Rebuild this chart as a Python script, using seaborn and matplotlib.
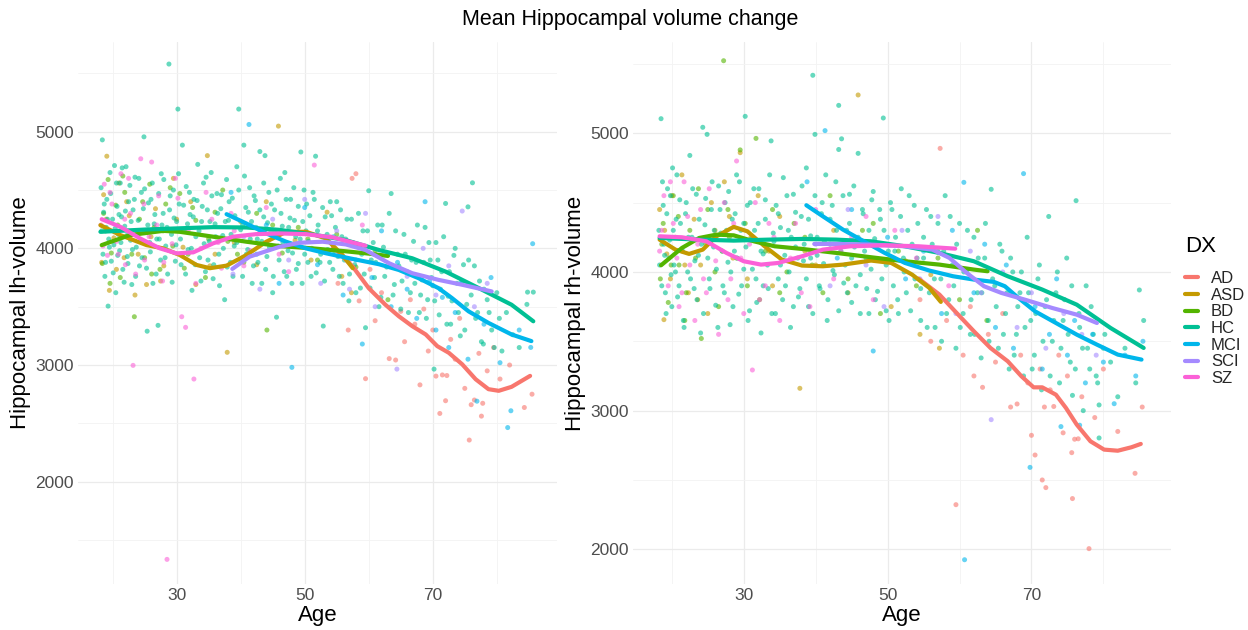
import matplotlib
matplotlib.use("Agg")
import matplotlib.pyplot as plt
from matplotlib.lines import Line2D
import seaborn as sns
import pandas as pd

# ---------------- data ----------------
GROUPS = ["AD", "ASD", "BD", "HC", "MCI", "SCI", "SZ"]
COLORS = ["#F8766D", "#C49A00", "#53B400", "#00C094", "#00B6EB", "#A58AFF", "#FB61D7"]
X_TICKS = [30, 50, 70]
LH_Y_TICKS = [2000, 3000, 4000, 5000]
RH_Y_TICKS = [2000, 3000, 4000, 5000]

# --- left hemisphere scatter (Age, volume) ---
LH_HC = [(18.2,4520),(18.4,4930),(18.5,3950),(18.6,4310),(18.8,3760),(19.0,4180),(19.1,4420),(19.3,3505),(19.4,4080),(19.6,4650),(19.8,3890),(20.0,4250),(20.2,4030),(20.3,4710),(20.5,3620),(20.7,4360),(20.9,4120),(21.1,3980),(21.2,4560),(21.4,4270),(21.6,3820),(21.9,4190),(22.1,4700),(22.3,3930),(22.5,4400),(22.8,4070),(23.0,3690),(23.2,4330),(23.5,4610),(23.7,4010),(24.0,4240),(24.2,3850),(24.5,4480),(24.9,4956),(25.1,4150),(25.4,3290),(25.6,4390),(25.9,3970),(26.2,4560),(26.5,4210),(26.8,3780),(27.1,3340),(27.3,4080),(27.6,4640),(27.9,4300),(28.2,3920),(28.5,4180),(28.8,5580),(29.0,4450),(29.3,3710),(29.6,4260),(29.9,4030),(30.2,5194),(30.4,4380),(30.7,3860),(30.9,4885),(31.2,4150),(31.5,4530),(31.8,3990),(32.1,4290),(32.4,3640),(32.7,4420),(33.0,4100),(33.3,4720),(33.6,3920),(33.9,4230),(34.2,4560),(34.5,3800),(34.8,4330),(35.1,4060),(35.4,4650),(35.7,3740),(36.0,4210),(36.3,4470),(36.6,3950),(36.9,4340),(37.2,4110),(37.5,3560),(37.8,4590),(38.1,4240),(38.4,3880),(38.7,4430),(39.0,4020),(39.4,4700),(39.7,5194),(40.0,4160),(40.3,3760),(40.5,4885),(40.8,4350),(41.1,3990),(41.4,4520),(41.7,4230),(42.0,3850),(42.3,4410),(42.6,4080),(43.0,4830),(43.3,3700),(43.6,4270),(43.8,4795),(44.1,3930),(44.4,4480),(44.7,4140),(45.0,3620),(45.3,4330),(45.6,3410),(45.9,4020),(46.2,4600),(46.5,4190),(46.8,3800),(47.1,4420),(47.4,3980),(47.7,4260),(48.0,3700),(48.3,4520),(48.6,4100),(49.0,3870),(49.4,4826),(49.7,4230),(50.0,3950),(50.3,4380),(50.6,4060),(51.0,3760),(51.3,4480),(51.7,4790),(52.0,4150),(52.4,3880),(52.9,3334),(53.2,4270),(53.6,3990),(54.0,4400),(54.4,3820),(54.8,4180),(55.2,3930),(55.6,4330),(56.0,3700),(56.4,4080),(56.9,3550),(57.3,4250),(57.8,3860),(58.2,4020),(58.7,3660),(59.1,4150),(59.5,3320),(60.0,4494),(60.4,3900),(60.9,3750),(61.4,4200),(61.9,3580),(62.3,4010),(62.8,3840),(63.2,4300),(63.5,4470),(64.0,3690),(64.5,3950),(65.0,3480),(65.5,4120),(66.0,3800),(66.5,3620),(67.0,4060),(67.4,3880),(67.9,3450),(68.3,3730),(68.8,4180),(69.2,3560),(69.6,3900),(70.0,3680),(70.2,2965),(70.5,4050),(71.0,3430),(71.4,3800),(72.0,4385),(72.4,3590),(72.8,3350),(73.3,3940),(73.8,3700),(74.3,3250),(74.8,3860),(75.3,3520),(75.5,4356),(76.2,4562),(76.7,3400),(77.3,3720),(77.9,3180),(78.5,3560),(79.2,3300),(80.0,3620),(80.8,3120),(81.5,3450),(82.5,3260),(83.5,3150),(84.7,3520),(84.8,3625),(85.7,3625),
         (18.3,4150),(18.7,4380),(18.9,3880),(19.2,4250),(19.5,4010),(19.7,4470),(20.1,3790),(20.4,4170),(20.6,4560),(20.8,3940),(21.0,4290),(21.3,4050),(21.5,4690),(21.8,3710),(22.0,4320),(22.2,4110),(22.4,3870),(22.7,4540),(22.9,4230),(23.1,3990),(23.4,4420),(23.6,3760),(23.8,4150),(24.1,4600),(24.3,4060),(24.6,3920),(24.8,4340),(25.0,4510),(25.3,3830),(25.5,4200),(25.8,4050),(26.0,4420),(26.3,3700),(26.6,4290),(26.9,4080),(27.2,4470),(27.5,3900),(27.7,4200),(28.0,4590),(28.3,4020),(28.6,3780),(28.9,4330),(29.2,4120),(29.5,4500),(29.8,3890),(30.0,4230),(30.3,4640),(30.6,4080),(30.9,3950),(31.1,4370),(31.4,3780),(31.7,4210),(32.0,4480),(32.3,4000),(32.6,4270),(32.9,3860),(33.2,4410),(33.5,4150),(33.8,3720),(34.0,4360),(34.3,4040),(34.6,4610),(34.9,3900),(35.2,4230),(35.5,4450),(35.8,3860),(36.1,4100),(36.4,4300),(36.7,3680),(37.0,4460),
         (37.3,4000),(37.6,4230),(37.9,3840),(38.2,4400),(38.5,4120),(38.8,3760),(39.1,4280),(39.4,4050),(39.7,4500),(40.0,3900),(40.3,4200),(40.6,4620),(40.9,3950),(41.2,4310),(41.5,4080),(41.8,3700),(42.1,4450),(42.4,4180),(42.7,3880),(43.0,4330),(43.3,4060),(43.6,4560),(43.9,3820),(44.2,4220),(44.5,4010),(44.8,4380),(45.1,3760),(45.4,4150),(45.7,4500),(46.0,3900),(46.3,4300),(46.6,4050),(46.9,4650),(47.2,3760),(47.5,4180),(47.8,4420),(48.1,3960),(48.4,4240),(48.7,3820),(49.0,4360),(49.3,4080),(49.6,3700),(49.9,4500),(50.2,4150),(50.5,3880),(50.8,4280),(51.1,4000),(51.5,4420),(51.8,3790),(52.1,4200),(52.5,3950),(52.8,4350),(53.1,3720),(53.5,4120),(53.9,3880),(54.2,4280),(54.6,3980),(55.0,4400),(55.4,3760),(55.8,4100),
         (56.2,3900),(56.6,4250),(57.0,3780),(57.5,4050),(58.0,3620),(58.4,4300),(58.9,3950),(59.3,3780),(59.8,4150),(60.2,3660),(60.7,4050),(61.1,3880),(61.6,3500),(62.1,4200),(62.5,3760),(63.0,3950),(63.8,3600),(64.2,4150),(64.7,3850),(65.2,3720),(65.7,3950),(66.2,3450),(66.7,3900),(67.2,3700),(67.6,4200),(68.1,3600),(68.6,3880),(69.0,3400),(69.4,4050),(69.8,3750),(70.3,3550),(70.8,3900),(71.2,3650),(71.7,4100),(72.2,3350),(72.6,3800),(73.0,3550),(73.5,4000),(74.0,3450),(74.5,3700),(75.0,3300),(75.6,3900),(76.0,3600),(76.5,3850),(77.0,3450),(77.6,3200),(78.0,3650),(78.8,3450),(79.6,3150),(80.4,3400)]
LH_ASD = [(18.3,3880),(18.6,4460),(19.1,4790),(19.5,3640),(20.2,4090),(21.0,4560),(21.8,3920),(22.6,4280),(23.5,3600),(24.4,4150),(25.3,3690),(26.7,4340),(28.0,3850),(29.5,4600),(31.0,4010),(33.0,3690),(34.8,4795),(36.0,3950),(37.9,3109),(40.0,4230),(42.5,3860),(44.0,4400),(45.9,5048),(48.5,4070),(51.0,3900),(53.5,4310),(55.8,3760),(57.3,3620),
          (19.0,4250),(20.6,3820),(22.2,4400),(24.0,3950),(26.0,4100),(27.5,3720),(30.0,4250),(32.2,4400),(35.2,3850),(39.0,4050)]
LH_BD = [(18.4,3870),(18.9,4150),(19.3,4590),(19.8,3960),(20.5,4370),(21.2,3750),(21.9,4480),(22.7,4100),(23.4,3414),(24.2,4250),(25.0,3920),(25.8,4550),(26.5,4180),(27.4,3820),(28.3,4380),(29.4,4020),(30.5,4470),(31.8,3950),(33.0,4240),(34.5,3750),(36.0,4310),(38.0,4060),(40.5,3880),(42.5,4300),(44.1,3300),(46.5,3960),(49.0,4180),(52.0,3900),(55.0,4120),(58.0,3840),(61.0,3980),(63.0,3560),
         (18.6,4300),(19.6,3700),(20.8,4200),(21.6,4620),(23.0,3950),(24.7,4400),(26.1,3780),(27.9,4150),(29.0,4520),(31.2,3830),(32.5,4350),(35.0,4080),(37.2,4500),(39.5,3950),(45.0,4200),(50.5,4080)]
LH_SZ = [(18.2,4200),(18.7,4550),(19.2,3940),(19.9,4380),(20.6,4060),(21.3,4640),(22.0,3860),(22.8,4300),(23.2,2997),(23.9,4120),(24.4,4768),(25.0,3900),(26.1,4740),(26.9,4200),(27.8,3720),(28.5,1334),(29.3,4040),(30.2,4430),(30.8,3414),(31.4,3323),(32.7,2880),(33.8,4000),(35.5,4250),(37.0,3830),(39.0,4150),(41.5,3980),(44.0,4350),(47.5,3800),(51.5,4714),(54.0,4100),(57.0,3900),(59.0,4200),
         (18.5,4020),(19.6,4480),(20.9,3950),(21.9,4250),(22.5,4600),(23.6,3780),(24.9,4380),(25.7,4100),(27.2,4450),(28.0,3880),(29.8,4600),(31.8,4150),(33.0,3700),(34.6,4480),(36.5,4050),(38.5,4300),(40.5,3850),(43.0,4150),(46.0,3950)]
LH_AD = [(55.2,3700),(56.8,3300),(57.4,4600),(58.0,4640),(58.5,3550),(59.5,2883),(60.2,3820),(61.0,3380),(62.0,3620),(63.2,3055),(64.2,3043),(65.0,3460),(65.6,3200),(66.5,3560),(67.2,3350),(68.0,2830),(68.6,3480),(69.3,3120),(70.0,3300),(70.5,2905),(71.1,2585),(71.5,2915),(72.0,2694),(72.2,2910),(72.8,3220),(73.5,3050),(74.2,3400),(75.0,2800),(75.7,2357),(76.0,2660),(76.5,2700),(77.2,3100),(77.6,2562),(77.8,2672),(78.5,2950),(79.5,3150),(80.5,2880),(82.0,3000),(84.3,2636),(85.5,2750)]
LH_MCI = [(38.5,4480),(41.3,5062),(42.5,3950),(44.0,4200),(46.0,3700),(48.0,2980),(50.0,4350),(52.0,3860),(54.5,4100),(56.0,3600),(58.0,3900),(59.0,3180),(60.5,3750),(62.0,4150),(63.5,3500),(64.5,3880),(66.0,3650),(67.5,3400),(68.8,4400),(69.5,3720),(70.5,3300),(71.5,3580),(72.5,3150),(73.5,3450),(74.5,3720),(75.5,3050),(76.9,2690),(78.0,3350),(79.1,3750),(80.5,3020),(81.7,2464),(82.2,2608),(83.5,3300),(85.3,3151),(85.6,4040)]
LH_SCI = [(38.8,3780),(40.5,4100),(43.0,3650),(45.0,4250),(47.5,3900),(50.0,4420),(52.5,3700),(55.0,4150),(57.0,3650),(59.5,4300),(61.0,3500),(63.0,3950),(64.4,2965),(66.0,3760),(68.5,4000),(70.5,3600),(72.5,3850),(74.6,4320),(76.5,3500),(78.5,3700)]

# --- right hemisphere scatter ---
RH_HC = [(18.2,4300),(18.5,5105),(18.6,3900),(18.8,4480),(19.0,4120),(19.2,3700),(19.4,4600),(19.7,4230),(19.9,3980),(20.1,4750),(20.3,4050),(20.6,4380),(20.8,3820),(21.1,4520),(21.3,4160),(21.6,3650),(21.9,4420),(22.2,4000),(22.5,4840),(22.8,4250),(23.1,3880),(23.4,4560),(23.7,4120),(24.0,3560),(24.3,5043),(24.6,4340),(24.9,4992),(25.2,3950),(25.5,4450),(25.8,4180),(26.1,3760),(26.5,4620),(26.8,4280),(27.1,3900),(27.4,4500),(27.8,4070),(28.1,3620),(28.4,4380),(28.7,4150),(29.0,4700),(29.3,3840),(29.6,4300),(30.0,4020),(30.2,5122),(30.5,4480),(30.8,3720),(31.1,4240),(31.4,4600),(31.7,3950),(32.0,4350),(32.4,3560),(32.7,4130),(33.0,4520),(33.4,3880),(33.8,4945),(34.1,4280),(34.4,3700),(34.8,4420),(35.1,4050),(35.5,4680),(35.8,3900),(36.2,4300),(36.5,3600),(36.9,4560),(37.2,4180),(37.6,3820),(38.0,4400),(38.3,4080),(38.7,4750),(39.0,3750),(39.3,4260),(39.6,5418),(39.9,4992),(40.2,4120),(40.6,3880),(40.9,4500),(41.2,4220),(41.6,3650),(42.0,4380),(42.4,4010),(42.8,4650),(43.2,4883),(43.2,5201),(43.6,4960),(43.9,3920),(44.3,4300),(44.7,4560),(45.0,3780),(45.4,4180),(45.9,4855),(46.2,3980),(46.6,4420),(47.0,4100),(47.4,3700),(47.8,4520),(48.2,4240),(48.6,3860),(49.0,4380),(49.4,5110),(49.8,4050),(50.2,3650),(50.6,4450),(51.0,4150),(51.4,3800),(51.9,4600),(52.3,4000),(52.8,4300),(53.2,3720),(53.7,4480),(54.1,4100),(54.6,3880),(55.0,4250),(55.5,3600),(56.0,4400),(56.5,3950),(57.0,4150),(57.5,3500),(58.0,4550),(58.5,3800),(59.0,4050),(59.5,3450),(60.0,4350),(60.5,3700),(61.0,4000),(61.5,3550),(62.0,4250),(62.5,3850),(63.0,3380),(63.5,4100),(64.0,3650),(64.4,4596),(64.9,3900),(65.4,3450),(65.9,4150),(66.4,3700),(66.9,3300),(67.4,4000),(67.9,3550),(68.4,3850),(68.9,3250),(69.4,4250),(69.9,3650),(70.4,3400),(70.9,3950),(71.4,3150),(71.9,3750),(72.4,4400),(72.9,3500),(73.4,3850),(73.9,3200),(74.4,3650),(74.9,4100),(75.4,3350),(75.7,3110),(76.2,4514),(76.7,3600),(77.2,3000),(77.8,3450),(78.3,3750),(79.0,3250),(79.4,3041),(79.4,2803),(80.2,3550),(81.0,3350),(82.0,3100),(83.0,3450),(84.5,3200),(85.0,3870),(85.6,3650),
         (18.3,4050),(18.7,4650),(18.9,4200),(19.1,3850),(19.3,4420),(19.6,4100),(19.8,4550),(20.0,3750),(20.2,4300),(20.5,4000),(20.7,4700),(21.0,3900),(21.2,4350),(21.5,4150),(21.7,3600),(22.0,4500),(22.3,4250),(22.6,3950),(22.9,4600),(23.2,4080),(23.5,3800),(23.8,4380),(24.1,4200),(24.4,3700),(24.7,4530),(25.0,4100),(25.3,3880),(25.6,4650),(25.9,4300),(26.2,4020),(26.4,3600),(26.7,4450),(27.0,4150),(27.3,3850),(27.6,4300),(27.9,4580),(28.2,4000),(28.5,3750),(28.8,4420),(29.1,4100),(29.4,4650),(29.7,3900),(30.0,4350),(30.3,4180),(30.6,3650),(30.9,4500),(31.2,4020),(31.5,4300),(31.8,3780),(32.1,4600),(32.4,4150),(32.7,3900),(33.0,4380),(33.3,4050),(33.6,4700),(33.9,3700),(34.2,4220),(34.5,4480),(34.8,3950),(35.1,4320),(35.4,3800),(35.7,4120),(36.0,4550),(36.3,4000),(36.6,4250),(36.9,3750),(37.2,4430),(37.5,4100),(37.8,3880),(38.1,4620),
         (38.4,4200),(38.7,3950),(39.0,4380),(39.3,4100),(39.6,3700),(39.9,4550),(40.2,4250),(40.5,3900),(40.8,4420),(41.1,4060),(41.4,4700),(41.7,3800),(42.0,4200),(42.3,4480),(42.6,3980),(42.9,4300),(43.2,3720),(43.5,4150),(43.8,4550),(44.1,4050),(44.4,3850),(44.7,4350),(45.0,4100),(45.3,4620),(45.6,3900),(45.9,4250),(46.2,3700),(46.5,4450),(46.8,4150),(47.1,3880),(47.4,4300),(47.7,4020),(48.0,4580),(48.3,3800),(48.6,4200),(48.9,4450),(49.2,3950),(49.5,4300),(49.8,3720),(50.1,4150),(50.4,4500),(50.8,3900),(51.1,4250),(51.5,3700),(51.8,4400),(52.2,4100),(52.6,3850),(53.0,4550),(53.4,4200),(53.8,3950),(54.2,4350),(54.6,3650),(55.0,4100),(55.4,4450),(55.8,3850),(56.2,4200),(56.6,3600),(57.0,4350),(57.4,3950),(57.8,4150),
         (58.2,3700),(58.7,4400),(59.2,3900),(59.6,4200),(60.1,3600),(60.6,4000),(61.1,4300),(61.6,3800),(62.1,3550),(62.6,4100),(63.1,3850),(63.6,4350),(64.1,3500),(64.6,3950),(65.1,3750),(65.6,4200),(66.1,3550),(66.6,3850),(67.1,4100),(67.6,3400),(68.1,3750),(68.6,4000),(69.1,3600),(69.6,3850),(70.1,3300),(70.6,3700),(71.1,4050),(71.6,3500),(72.1,3800),(72.6,3250),(73.1,3650),(73.6,4000),(74.1,3450),(74.6,3800),(75.1,3550),(75.6,3900),(76.1,3300),(76.6,3700),(77.1,3450),(77.6,3900),(78.1,3300),(78.6,3550),(79.2,3200),(80.0,3450)]
RH_ASD = [(18.3,4450),(18.9,3656),(19.3,4130),(19.8,3950),(20.5,4250),(21.4,4700),(22.3,3850),(23.1,4380),(24.0,4050),(25.0,3700),(26.0,4300),(27.3,4650),(28.5,4100),(29.5,4860),(30.5,3950),(32.0,4550),(33.5,4150),(35.0,4400),(37.8,3161),(40.0,4050),(42.5,4300),(44.5,3850),(45.9,5276),(48.0,4200),(50.5,3750),(52.5,4080),(54.5,3550),(56.0,3980),(57.2,3450),
          (19.0,4300),(20.0,4550),(21.8,4050),(23.6,3800),(25.5,4500),(27.0,4150),(28.0,4400),(31.0,4250),(34.0,3900),(38.5,4150)]
RH_BD = [(18.4,3950),(18.8,4350),(19.5,3780),(20.2,4550),(21.0,4050),(21.8,3650),(22.5,4300),(23.3,4100),(24.1,3520),(25.0,4450),(26.0,4000),(27.2,5523),(28.0,4250),(29.5,4880),(30.5,3900),(31.7,4963),(33.0,4150),(35.0,3850),(37.0,4350),(39.5,4050),(42.0,4550),(44.5,3950),(46.5,4300),(49.0,3700),(51.5,4150),(54.0,3900),(57.0,4100),(60.0,3800),(62.5,4300),(63.8,3650),
         (18.6,4200),(19.9,4050),(20.9,4400),(22.0,3850),(23.7,4600),(24.7,4200),(26.5,3750),(27.8,4450),(29.0,4100),(30.2,4350),(32.2,3800),(34.0,4450),(36.0,4000),(38.5,4250),(41.0,3850),(48.0,4350)]
RH_SZ = [(18.3,4150),(18.9,4550),(19.5,3900),(20.2,4350),(21.0,3750),(21.7,4650),(22.5,4050),(23.2,3650),(24.0,4450),(24.8,3850),(25.6,4250),(26.5,3550),(27.3,4500),(28.2,3950),(29.0,4800),(30.0,3700),(30.8,4200),(31.2,3293),(32.2,3800),(33.5,4350),(35.0,3650),(36.5,4100),(38.0,3850),(40.0,4450),(42.5,3950),(45.0,4250),(48.0,3800),(51.0,4300),(54.0,4100),(58.5,3900),
         (18.6,4300),(19.8,4650),(20.7,4100),(21.4,3850),(22.2,4400),(23.6,4200),(24.4,3950),(25.2,4600),(26.1,4080),(27.8,3800),(28.6,4350),(29.6,4100),(31.6,4500),(33.0,3900),(34.2,4250),(37.2,4350),(39.2,3750),(43.5,4150),(47.0,4400)]
RH_AD = [(54.5,3800),(56.0,3500),(57.3,4891),(58.2,3650),(59.5,2322),(60.5,3400),(61.5,3750),(62.0,3250),(63.2,3168),(64.0,3550),(65.0,3350),(66.0,3700),(67.1,3026),(68.0,3048),(68.5,3400),(69.5,3200),(70.0,2822),(70.5,2680),(71.2,3300),(71.5,2500),(71.8,3026),(72.0,2445),(72.6,3150),(73.1,3030),(73.8,3400),(74.4,2840),(75.0,3250),(75.6,2697),(75.7,2366),(76.0,2794),(76.5,2797),(77.0,3100),(78.0,2005),(78.8,2950),(80.0,3300),(82.0,2850),(84.4,2548),(85.4,3026)]
RH_MCI = [(38.8,4650),(41.3,5019),(43.0,4100),(45.0,4450),(48.0,3430),(50.0,4250),(52.5,3950),(55.0,4150),(57.5,3700),(59.0,4300),(60.6,4646),(60.7,1925),(62.0,3850),(63.5,4200),(65.0,3600),(66.5,4050),(67.5,3450),(68.9,4709),(69.8,2591),(70.5,3750),(71.5,3300),(72.5,3550),(73.5,3950),(74.1,2885),(75.0,3400),(76.0,3650),(76.7,2895),(77.5,3200),(78.5,3550),(80.0,3350),(81.5,3050),(83.0,3400),(84.5,3250),(85.5,3500)]
RH_SCI = [(40.0,4200),(42.0,3900),(44.5,4450),(47.0,4050),(49.5,3750),(52.0,4300),(54.5,3950),(57.0,4400),(59.5,3700),(61.5,4150),(63.0,3850),(64.4,2935),(66.0,4000),(68.0,3600),(70.0,3850),(72.0,3450),(74.5,3700),(77.0,3550),(79.0,3400)]

# --- smoothed trend curves (Age, volume) ---
LH_FIT_AD = [(54.4,4014),(57.5,3844),(60.0,3659),(62.6,3517),(64.7,3418),(66.8,3333),(68.9,3262),(70.7,3162),(72.5,3105),(74.6,3006),(76.7,2878),(78.7,2793),(80.3,2779),(82.3,2813),(85.2,2907)]
LH_FIT_ASD = [(18.1,4199),(21.2,4114),(25.3,4028),(27.9,4000),(30.5,3943),(33.1,3858),(35.2,3830),(37.8,3852),(40.9,3943),(44.0,4057),(47.1,4142),(50.2,4142),(53.3,4085),(55.9,3943),(57.5,3830)]
LH_FIT_BD = [(18.3,4028),(22.7,4114),(27.9,4150),(30.5,4142),(35.7,4100),(40.9,4057),(46.0,4020),(51.2,4000),(56.4,3975),(60.0,3955),(63.0,3935)]
LH_FIT_HC = [(18.1,4142),(25.3,4162),(30.5,4172),(35.7,4182),(40.9,4179),(46.0,4159),(51.2,4119),(56.4,4071),(61.6,3986),(66.8,3915),(72.0,3801),(77.2,3659),(82.3,3517),(85.7,3375)]
LH_FIT_MCI = [(37.8,4293),(40.9,4213),(44.0,4128),(47.1,4057),(50.2,4000),(53.4,3957),(57.0,3915),(61.6,3864),(64.7,3815),(67.8,3744),(70.9,3659),(73.0,3574),(75.6,3460),(78.7,3361),(82.3,3262),(85.4,3205)]
LH_FIT_SCI = [(38.7,3824),(41.4,3929),(46.1,4014),(49.2,4048),(52.8,4057),(56.4,4034),(59.5,3986),(63.2,3872),(66.8,3787),(70.9,3730),(74.6,3688),(79.2,3631)]
LH_FIT_SZ = [(18.3,4250),(21.2,4185),(24.3,4085),(27.4,4000),(30.0,3957),(32.6,3966),(35.7,4043),(38.8,4100),(42.4,4122),(46.1,4128),(50.2,4122),(54.4,4094),(59.5,4023)]

RH_FIT_AD = [(54.3,3952),(57.2,3837),(59.6,3704),(62.0,3572),(64.3,3452),(66.7,3356),(68.6,3248),(70.3,3168),(71.5,3168),(73.4,3115),(74.8,3019),(76.3,2899),(78.2,2779),(80.1,2719),(82.0,2711),(83.9,2736),(85.2,2760)]
RH_FIT_ASD = [(18.3,4233),(20.5,4161),(22.4,4130),(24.3,4161),(26.2,4257),(28.6,4325),(30.5,4293),(32.9,4185),(35.3,4089),(38.1,4046),(41.0,4041),(43.8,4053),(47.7,4082),(50.5,4065),(53.4,3981),(55.8,3885),(57.4,3784)]
RH_FIT_BD = [(18.5,4048),(21.4,4173),(23.8,4245),(26.2,4269),(28.6,4264),(31.4,4221),(34.3,4185),(38.1,4166),(42.9,4137),(47.7,4106),(52.4,4077),(57.2,4053),(62.0,4017),(63.9,4005)]
RH_FIT_HC = [(18.3,4245),(23.8,4233),(28.6,4226),(33.4,4233),(38.1,4238),(42.9,4233),(47.7,4221),(52.4,4185),(57.2,4137),(62.0,4077),(66.7,3969),(71.5,3873),(76.3,3764),(81.0,3596),(85.6,3452)]
RH_FIT_MCI = [(38.7,4481),(41.0,4401),(43.8,4305),(46.7,4221),(49.6,4137),(52.4,4065),(55.8,4010),(59.1,3969),(62.0,3945),(64.8,3928),(66.3,3897),(68.2,3812),(70.5,3716),(73.4,3632),(76.3,3548),(79.1,3476),(82.0,3404),(85.3,3368)]
RH_FIT_SCI = [(39.8,4202),(42.9,4202),(47.7,4197),(52.4,4185),(56.2,4161),(58.6,4101),(61.0,3993),(63.4,3897),(65.8,3849),(69.1,3800),(72.9,3740),(76.3,3692),(79.1,3632)]
RH_FIT_SZ = [(18.3,4257),(21.4,4250),(24.8,4221),(27.6,4137),(30.0,4077),(32.4,4053),(34.8,4065),(38.1,4113),(41.0,4161),(44.8,4185),(49.6,4192),(54.3,4185),(59.4,4168)]


def frame(groups_pts):
    rows = []
    for g, pts in groups_pts.items():
        for a, v in pts:
            rows.append({"Age": a, "vol": v, "DX": g})
    return pd.DataFrame(rows)


lh_pts = frame({"AD": LH_AD, "ASD": LH_ASD, "BD": LH_BD, "HC": LH_HC,
                "MCI": LH_MCI, "SCI": LH_SCI, "SZ": LH_SZ})
rh_pts = frame({"AD": RH_AD, "ASD": RH_ASD, "BD": RH_BD, "HC": RH_HC,
                "MCI": RH_MCI, "SCI": RH_SCI, "SZ": RH_SZ})
lh_fit = frame({"AD": LH_FIT_AD, "ASD": LH_FIT_ASD, "BD": LH_FIT_BD, "HC": LH_FIT_HC,
                "MCI": LH_FIT_MCI, "SCI": LH_FIT_SCI, "SZ": LH_FIT_SZ})
rh_fit = frame({"AD": RH_FIT_AD, "ASD": RH_FIT_ASD, "BD": RH_FIT_BD, "HC": RH_FIT_HC,
                "MCI": RH_FIT_MCI, "SCI": RH_FIT_SCI, "SZ": RH_FIT_SZ})

palette = dict(zip(GROUPS, COLORS))

# ---------------- figure ----------------
sns.set_theme(style="white")
plt.rcParams["font.family"] = ["Liberation Sans", "DejaVu Sans"]

W, H = 1248, 630
fig = plt.figure(figsize=(W / 100, H / 100), dpi=100)


def px_axes(x0, y0, x1, y1):
    return fig.add_axes([x0 / W, 1 - y1 / H, (x1 - x0) / W, (y1 - y0) / H])


ax_l = px_axes(78, 42, 557, 584)
ax_r = px_axes(633, 42, 1171, 584)

panels = [
    (ax_l, lh_pts, lh_fit, "Hippocampal lh-volume", LH_Y_TICKS, (1123, 5769), [1500, 2500, 3500, 4500, 5500]),
    (ax_r, rh_pts, rh_fit, "Hippocampal rh-volume", RH_Y_TICKS, (1750, 5658), [2500, 3500, 4500, 5500]),
]

for ax, pts, fit, ylab, yt, ylim, yminor in panels:
    sns.scatterplot(data=pts, x="Age", y="vol", hue="DX", hue_order=GROUPS,
                    palette=palette, s=13, alpha=0.6, linewidth=0,
                    legend=False, ax=ax, zorder=2)
    sns.lineplot(data=fit, x="Age", y="vol", hue="DX", hue_order=GROUPS,
                 palette=palette, linewidth=3.0, estimator=None, sort=True,
                 legend=False, ax=ax, zorder=3)
    ax.set_xlim(14.6, 89.4)
    ax.set_ylim(*ylim)
    ax.set_xticks(X_TICKS)
    ax.set_xticks([20, 40, 60, 80], minor=True)
    ax.set_yticks(yt)
    ax.set_yticks(yminor, minor=True)
    ax.grid(True, which="major", color="#EBEBEB", linewidth=0.9)
    ax.grid(True, which="minor", color="#F3F3F3", linewidth=0.6)
    ax.set_axisbelow(True)
    for sp in ax.spines.values():
        sp.set_visible(False)
    ax.tick_params(which="both", length=0, labelsize=12.5, labelcolor="#4D4D4D", pad=3)
    ax.set_xlabel("Age", fontsize=16, color="black", labelpad=1)
    ax.set_ylabel(ylab, fontsize=16, color="black", labelpad=3)

fig.text(630 / W, 1 - 20 / H, "Mean Hippocampal volume change", ha="center", va="center",
         fontsize=15.5, color="black")

fig.text(1185 / W, 1 - 247 / H, "DX", ha="left", va="center", fontsize=16, color="black")
handles = [Line2D([0], [0], color=c, lw=3.0) for c in COLORS]
leg = fig.legend(handles, GROUPS, loc="upper left",
                 bbox_to_anchor=(1185 / W, 1 - 271 / H), frameon=False,
                 fontsize=12, handlelength=0.75,
                 handletextpad=0.8, labelspacing=0.1, borderaxespad=0,
                 borderpad=0)

fig.savefig("out.png", dpi=100)
